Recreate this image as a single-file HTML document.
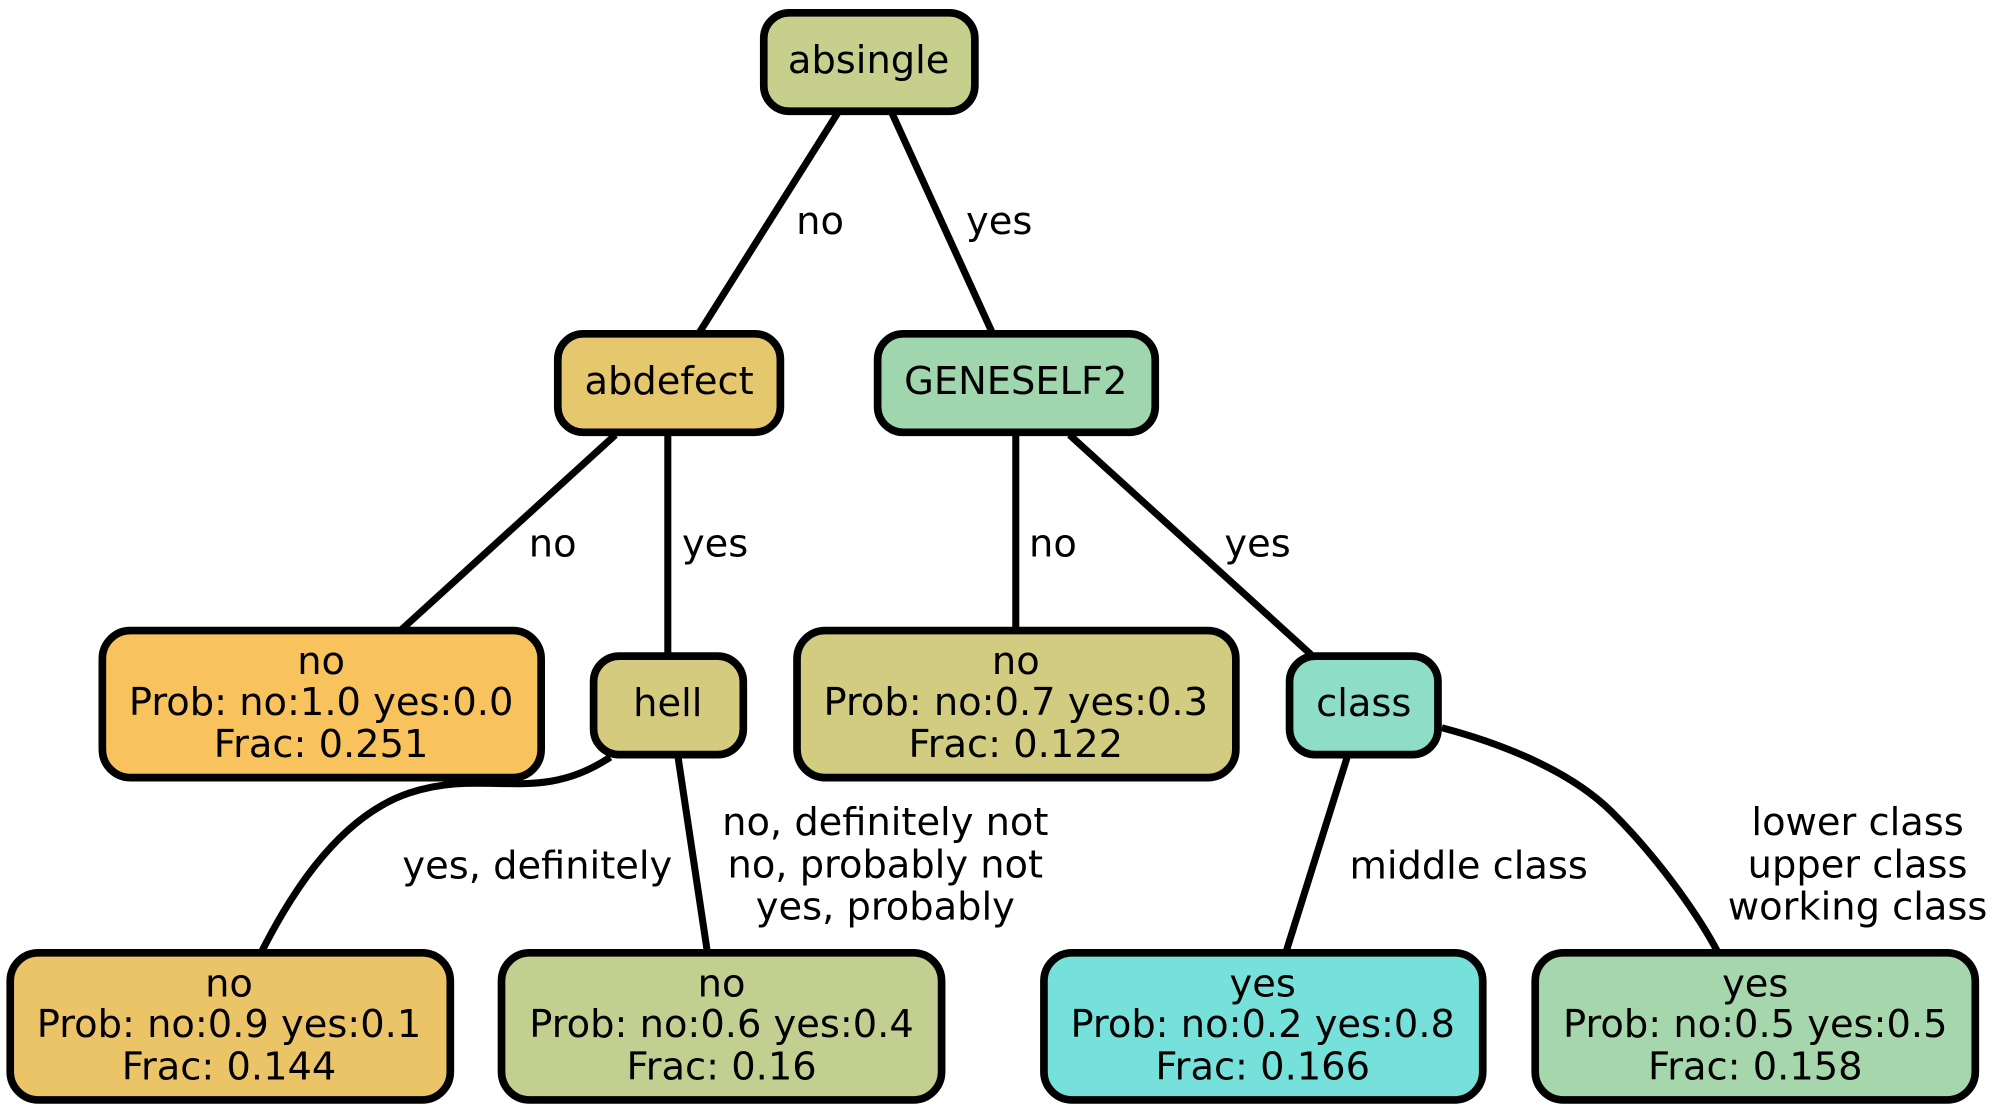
<!DOCTYPE html>
<html><head><meta charset="utf-8"><style>html,body{margin:0;padding:0;background:#fff}svg{display:block}</style></head><body>
<svg width="2006" height="1114" viewBox="0 0 1568 871" preserveAspectRatio="none" xmlns="http://www.w3.org/2000/svg" font-family="DejaVu Sans, sans-serif" font-size="30" text-anchor="middle">
<g stroke="#000" stroke-width="5.5" fill="none">
<path d="M655,88 L546,261"/>
<path d="M697,88 L776,261"/>
<path d="M481,340 L313,493"/>
<path d="M522,340 L522,513"/>
<path d="M794,340 L794,493"/>
<path d="M836,340 L1025,512"/>
<path d="M477,592 C420,630 380,600 320,620 C260,640 222,710 204,745"/>
<path d="M530,592 L553,745"/>
<path d="M1053,592 L1005,745"/>
<path d="M1127,569 C1180,583 1230,605 1260,635 C1300,675 1330,720 1343,745"/>
</g>
<g stroke="#000" stroke-width="6">
<rect x="597" y="10" width="165" height="77" rx="20" fill="#c7cf8c"/>
<rect x="436" y="261" width="174" height="77" rx="20" fill="#e5c76e"/>
<rect x="686" y="261" width="217" height="77" rx="20" fill="#a0d6ae"/>
<rect x="80" y="493" width="343" height="115" rx="22" fill="#f8c35d"/>
<rect x="464" y="513" width="117" height="77" rx="20" fill="#d5cb7e"/>
<rect x="623" y="493" width="343" height="115" rx="22" fill="#d2cc81"/>
<rect x="1008" y="513" width="116" height="77" rx="20" fill="#8dddc7"/>
<rect x="8" y="745" width="344" height="115" rx="22" fill="#ecc468"/>
<rect x="392" y="745" width="344" height="115" rx="22" fill="#c3cf90"/>
<rect x="816" y="745" width="343" height="115" rx="22" fill="#76e1da"/>
<rect x="1200" y="745" width="344" height="115" rx="22" fill="#a6d6ab"/>
</g>
<g fill="#000">
<text x="679" y="57">absingle</text>
<text x="523" y="308">abdefect</text>
<text x="794" y="308">GENESELF2</text>
<text x="522" y="560">hell</text>
<text x="1066" y="560">class</text>
<text x="251" y="527">no</text><text x="251" y="559">Prob: no:1.0 yes:0.0</text><text x="251" y="592">Frac: 0.251</text>
<text x="794" y="527">no</text><text x="794" y="559">Prob: no:0.7 yes:0.3</text><text x="794" y="592">Frac: 0.122</text>
<text x="179" y="779">no</text><text x="179" y="811">Prob: no:0.9 yes:0.1</text><text x="179" y="844">Frac: 0.144</text>
<text x="564" y="779">no</text><text x="564" y="811">Prob: no:0.6 yes:0.4</text><text x="564" y="844">Frac: 0.16</text>
<text x="987" y="779">yes</text><text x="987" y="811">Prob: no:0.2 yes:0.8</text><text x="987" y="844">Frac: 0.166</text>
<text x="1372" y="779">yes</text><text x="1372" y="811">Prob: no:0.5 yes:0.5</text><text x="1372" y="844">Frac: 0.158</text>
<text x="641" y="183">no</text>
<text x="781" y="183">yes</text>
<text x="432" y="435">no</text>
<text x="559" y="435">yes</text>
<text x="823" y="435">no</text>
<text x="983" y="435">yes</text>
<text x="420" y="687">yes, definitely</text>
<text x="692" y="653">no, definitely not</text><text x="692" y="686">no, probably not</text><text x="692" y="719">yes, probably</text>
<text x="1148" y="687">middle class</text>
<text x="1452" y="653">lower class</text><text x="1452" y="686">upper class</text><text x="1452" y="719">working class</text>
</g>
</svg>
</body></html>
